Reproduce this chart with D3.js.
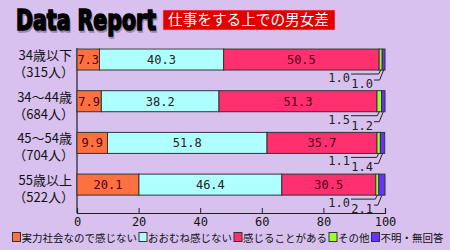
<!DOCTYPE html>
<html lang="ja">
<head>
<meta charset="utf-8">
<script src="https://cdn.jsdelivr.net/npm/d3@7"></script>
<style>
body { margin: 0; background: #d8c1ef; }
svg { display: block; }
text { font-family: "Noto Sans CJK JP", sans-serif; }
</style>
</head>
<body>
<svg id="svg1" width="450" height="250"></svg>
<script>
var categories = ['34歳以下', '34～44歳', '45～54歳', '55歳以上'];
var counts = ['（315人）', '（684人）', '（704人）', '（522人）'];
var seriesNames = ['実力社会なので感じない', 'おおむね感じない', '感じることがある', 'その他', '不明・無回答'];
var values = [
    [7.3, 40.3, 50.5, 1.0, 1.0],
    [7.9, 38.2, 51.3, 1.5, 1.2],
    [9.9, 51.8, 35.7, 1.1, 1.4],
    [20.1, 46.4, 30.5, 1.0, 2.1]
];
var ticks = [0, 20, 40, 60, 80, 100];
var colors = ['#ff7040', '#b0ffff', '#ff2f70', '#99ff33', '#6633ff'];

var svg = d3.select('#svg1');

// title, heavy with a soft shadow; squeezed horizontally with a transform
function titleText(tx, ty, col) {
    var t = svg.append('text')
        .attr('x', 0).attr('y', 0)
        .style('font-family', '"DejaVu Sans Condensed", "DejaVu Sans", sans-serif')
        .style('font-weight', 'bold').style('font-size', '28px')
        .attr('fill', col).attr('stroke', col).attr('stroke-width', 1.6)
        .text('Data Report');
    var k = 140 / t.node().getComputedTextLength();
    t.attr('transform', 'translate(' + tx + ',' + ty + ') scale(' + k + ',1)');
}
titleText(17, 32, '#9a8aaa');
titleText(16, 30, '#000');

svg.append('rect')
    .attr('x', 163).attr('y', 10).attr('width', 172).attr('height', 20)
    .attr('fill', '#e00000').attr('stroke', '#f0a0c0').attr('stroke-width', 0.6);
svg.append('text')
    .attr('x', 168).attr('y', 25)
    .attr('textLength', 161).attr('lengthAdjust', 'spacingAndGlyphs')
    .style('font-size', '14.5px').attr('fill', '#fff')
    .text('仕事をする上での男女差');

var x = d3.scaleLinear().domain([0, 100]).range([77, 385]);
var y = d3.scaleBand().domain(categories)
    .range([49, 49 + 4 * 41.7])
    .paddingInner(0.496).paddingOuter(0.248).align(0);

// axes
svg.append('line').attr('x1', 77).attr('x2', 385).attr('y1', 48.5).attr('y2', 48.5)
    .attr('stroke', '#e6dcf6').attr('stroke-width', 1);
var xAxis = svg.append('g')
    .attr('transform', 'translate(0,213)')
    .call(d3.axisBottom(x).tickValues(ticks).tickSize(-5).tickPadding(4));
xAxis.select('.domain').attr('stroke', '#222').attr('stroke-width', 1.2);
xAxis.selectAll('.tick line').attr('stroke', '#222');
xAxis.selectAll('.tick text')
    .style('font-family', '"DejaVu Sans Mono", monospace').style('font-size', '12px')
    .attr('fill', '#111');
svg.append('line').attr('x1', 77).attr('x2', 77).attr('y1', 48).attr('y2', 213)
    .attr('stroke', '#222').attr('stroke-width', 1.2);

// category labels
var cat = svg.selectAll('.cat').data(categories).enter().append('g').attr('class', 'cat');
cat.append('text')
    .attr('x', 72).attr('y', function (d) { return y(d) + 11; })
    .attr('text-anchor', 'end').style('font-size', '13px').attr('fill', '#111')
    .text(function (d) { return d; });
cat.append('text')
    .attr('x', 74).attr('y', function (d) { return y(d) + 28; })
    .attr('text-anchor', 'end').style('font-size', '13px').attr('fill', '#111')
    .text(function (d, i) { return counts[i]; });

// stacked bars
var rows = values.map(function (v, i) {
    var acc = 0;
    return v.map(function (val, j) {
        var s = { cat: categories[i], x0: acc, x1: acc + val, value: val, j: j };
        acc += val;
        return s;
    });
});

var row = svg.selectAll('.row').data(rows).enter().append('g').attr('class', 'row');
row.selectAll('rect').data(function (d) { return d; }).enter().append('rect')
    .attr('x', function (d) { return x(d.x0); })
    .attr('y', function (d) { return y(d.cat); })
    .attr('width', function (d) { return Math.min(x(d.x1), x(100)) - x(d.x0); })
    .attr('height', y.bandwidth())
    .attr('fill', function (d) { return colors[d.j]; })
    .attr('stroke', '#333').attr('stroke-width', 1);

row.selectAll('.val').data(function (d) { return d.slice(0, 3); }).enter().append('text')
    .attr('class', 'val')
    .attr('x', function (d) { return (x(d.x0) + x(d.x1)) / 2; })
    .attr('y', function (d) { return y(d.cat) + 15; })
    .attr('text-anchor', 'middle')
    .style('font-family', '"DejaVu Sans Mono", monospace').style('font-size', '12px')
    .attr('fill', function (d) { return d.j === 1 ? '#222' : '#4a0010'; })
    .text(function (d) { return d.value.toFixed(1); });

// small values with leader lines
rows.forEach(function (r) {
    var bottom = y(r[0].cat) + y.bandwidth();
    var g = svg.append('g');
    var gx = x((r[3].x0 + r[3].x1) / 2);
    var px = x((r[4].x0 + Math.min(r[4].x1, 100)) / 2);
    g.append('path')
        .attr('d', 'M351,' + (bottom + 4) + 'H' + (gx - 2) + 'L' + gx + ',' + bottom)
        .attr('fill', 'none').attr('stroke', '#222');
    g.append('path')
        .attr('d', 'M374,' + (bottom + 10) + 'H' + (px - 4) + 'L' + px + ',' + bottom)
        .attr('fill', 'none').attr('stroke', '#222');
    g.append('text')
        .attr('x', 350).attr('y', bottom + 12).attr('text-anchor', 'end')
        .style('font-family', '"DejaVu Sans Mono", monospace').style('font-size', '12px')
        .attr('fill', '#222').text(r[3].value.toFixed(1));
    g.append('text')
        .attr('x', 373).attr('y', bottom + 18).attr('text-anchor', 'end')
        .style('font-family', '"DejaVu Sans Mono", monospace').style('font-size', '12px')
        .attr('fill', '#222').text(r[4].value.toFixed(1));
});

// legend
var lx = 12;
seriesNames.forEach(function (name, i) {
    svg.append('rect')
        .attr('x', lx + 0.5).attr('y', 232.5).attr('width', 8).attr('height', 9)
        .attr('fill', colors[i]).attr('stroke', '#333');
    var t = svg.append('text')
        .attr('x', lx + 9.5).attr('y', 241.5)
        .style('font-size', '10.5px').attr('fill', '#111')
        .text(name);
    lx += 9.5 + t.node().getComputedTextLength() + 1.5;
});
</script>
</body>
</html>
